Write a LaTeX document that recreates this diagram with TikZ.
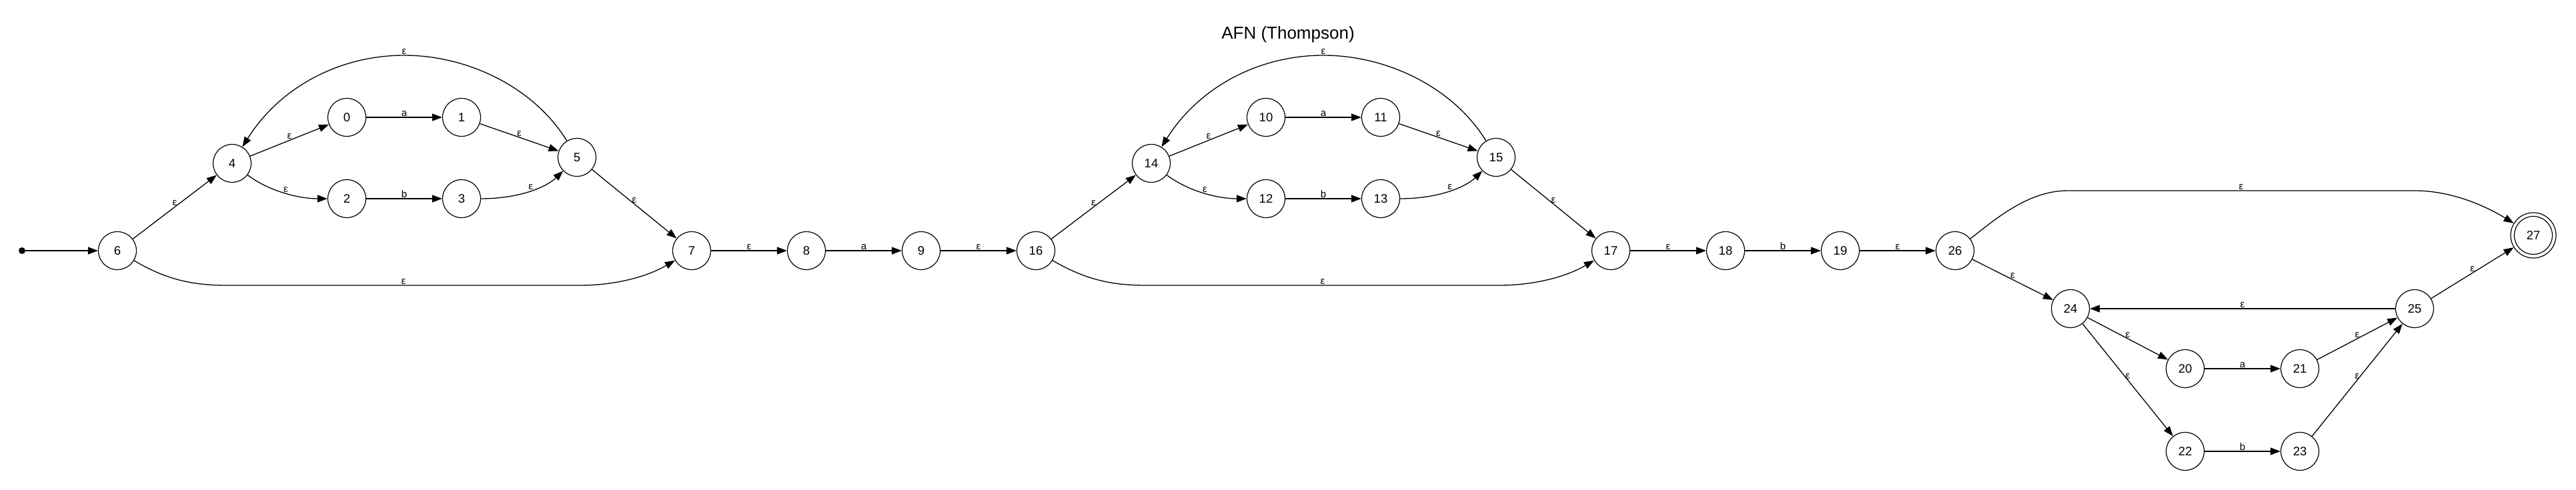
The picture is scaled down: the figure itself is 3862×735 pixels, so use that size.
\documentclass[tikz,border=0pt]{standalone}
\usepackage{fontspec}
\setmainfont{Liberation Sans}
\usetikzlibrary{arrows.meta}
\tikzset{
  st/.style={draw, circle, minimum size=57pt, inner sep=0pt, line width=1.2pt, font=\fontsize{18.5}{22}\selectfont},
  tr/.style={-{Triangle[length=15pt,width=11pt]}, line width=1.3pt},
  lb/.style={above, inner sep=1pt, font=\fontsize{15}{18}\selectfont},
}
\begin{document}
\begin{tikzpicture}[x=1pt,y=-1pt]
\useasboundingbox (0,0) rectangle (3862,735);
\node[font=\fontsize{26}{30}\selectfont] (title) at (1931,52) {AFN (Thompson)};
% nodes
\node[circle, fill, inner sep=0pt, minimum size=10pt] (s) at (33,376) {};
\node[st] (n6) at (176,376) {6};
\node[st] (n4) at (348,245) {4};
\node[st] (n0) at (520,176) {0};
\node[st] (n1) at (692,176) {1};
\node[st] (n2) at (520,298) {2};
\node[st] (n3) at (692,298) {3};
\node[st] (n5) at (865,236) {5};
\node[st] (n7) at (1037,376) {7};
\node[st] (n8) at (1209,376) {8};
\node[st] (n9) at (1381,376) {9};
\node[st] (n16) at (1553,376) {16};
\node[st] (n14) at (1726,245) {14};
\node[st] (n10) at (1898,176) {10};
\node[st] (n11) at (2070,176) {11};
\node[st] (n12) at (1898,298) {12};
\node[st] (n13) at (2070,298) {13};
\node[st] (n15) at (2243,236) {15};
\node[st] (n17) at (2415,376) {17};
\node[st] (n18) at (2587,376) {18};
\node[st] (n19) at (2759,376) {19};
\node[st] (n26) at (2931,376) {26};
\node[st] (n24) at (3104,463) {24};
\node[st] (n20) at (3276,553) {20};
\node[st] (n21) at (3448,553) {21};
\node[st] (n22) at (3276,677) {22};
\node[st] (n23) at (3448,677) {23};
\node[st] (n25) at (3620,463) {25};
\node[st, minimum size=68pt] (n27) at (3798,353) {27};
\draw[line width=1.2pt] (n27.center) circle (28.5pt);
% first block
\draw[tr] (s) -- (n6);
\draw[tr] (n6) -- node[lb] {ε} (n4);
\draw[tr] (n4) -- node[lb] {ε} (n0);
\draw[tr] (n0) -- node[lb] {a} (n1);
\draw[tr] (n1) -- node[lb] {ε} (n5);
\draw[tr] (n4) .. controls (405,288) and (450,298) .. node[lb] {ε} (n2);
\draw[tr] (n2) -- node[lb] {b} (n3);
\draw[tr] (n3) .. controls (780,298) and (820,280) .. node[lb] {ε} (n5);
\draw[tr] (n5) .. controls (800,130) and (700,83) .. (606,83) node[lb] {ε} .. controls (510,83) and (420,130) .. (n4);
\draw[tr] (n5) -- node[lb] {ε} (n7);
\draw[tr] (n6) .. controls (250,420) and (290,428) .. (340,428) -- node[lb] {ε} (870,428) .. controls (915,428) and (965,418) .. (n7);
\draw[tr] (n7) -- node[lb] {ε} (n8);
\draw[tr] (n8) -- node[lb] {a} (n9);
\draw[tr] (n9) -- node[lb] {ε} (n16);
% second block
\draw[tr] (n16) -- node[lb] {ε} (n14);
\draw[tr] (n14) -- node[lb] {ε} (n10);
\draw[tr] (n10) -- node[lb] {a} (n11);
\draw[tr] (n11) -- node[lb] {ε} (n15);
\draw[tr] (n14) .. controls (1783,288) and (1828,298) .. node[lb] {ε} (n12);
\draw[tr] (n12) -- node[lb] {b} (n13);
\draw[tr] (n13) .. controls (2158,298) and (2198,280) .. node[lb] {ε} (n15);
\draw[tr] (n15) .. controls (2178,130) and (2078,83) .. (1984,83) node[lb] {ε} .. controls (1888,83) and (1798,130) .. (n14);
\draw[tr] (n15) -- node[lb] {ε} (n17);
\draw[tr] (n16) .. controls (1628,420) and (1668,428) .. (1718,428) -- node[lb] {ε} (2248,428) .. controls (2293,428) and (2343,418) .. (n17);
\draw[tr] (n17) -- node[lb] {ε} (n18);
\draw[tr] (n18) -- node[lb] {b} (n19);
\draw[tr] (n19) -- node[lb] {ε} (n26);
% third block
\draw[tr] (n26) .. controls (2990,330) and (3040,286) .. (3100,286) -- node[lb] {ε} (3620,286) .. controls (3670,286) and (3720,305) .. (n27);
\draw[tr] (n26) -- node[lb] {ε} (n24);
\draw[tr] (n24) -- node[lb] {ε} (n20);
\draw[tr] (n24) -- node[lb] {ε} (n22);
\draw[tr] (n20) -- node[lb] {a} (n21);
\draw[tr] (n22) -- node[lb] {b} (n23);
\draw[tr] (n21) -- node[lb] {ε} (n25);
\draw[tr] (n23) -- node[lb] {ε} (n25);
\draw[tr] (n25) -- node[lb] {ε} (n24);
\draw[tr] (n25) -- node[lb] {ε} (n27);
\end{tikzpicture}
\end{document}
